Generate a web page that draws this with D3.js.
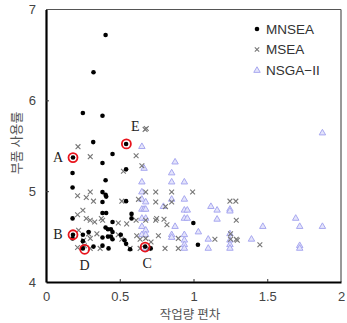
<!DOCTYPE html>
<html><head><meta charset="utf-8">
<script src="https://cdn.jsdelivr.net/npm/d3@7"></script>
<style>body{margin:0;background:#fff}svg{display:block}</style>
</head><body><svg id="c" width="347" height="323"></svg>
<script>
const xTicks = [0, 0.5, 1, 1.5, 2];
const yTicks = [4, 5, 6, 7];
const xTitle = "작업량 편차";
const yTitle = "부품 사용률";
const seriesNames = ["MNSEA", "MSEA", "NSGA-II"];
const legendLabels = ["MNSEA", "MSEA", "NSGA\u2212II"];

const mnsea = [[0.404,6.72],[0.322,6.31],[0.25,5.86],[0.383,5.83],[0.32,5.54],[0.543,5.52],[0.451,5.41],[0.183,5.37],[0.383,5.31],[0.543,5.24],[0.18,5.20],[0.404,5.12],[0.18,5.04],[0.383,4.99],[0.404,4.96],[0.408,4.94],[0.543,4.89],[0.383,4.88],[0.383,4.76],[0.408,4.76],[0.18,4.70],[0.58,4.75],[0.58,4.70],[0.451,4.66],[0.404,4.60],[0.42,4.58],[0.44,4.58],[0.451,4.55],[0.289,4.55],[0.999,4.65],[0.183,4.52],[0.25,4.52],[0.383,4.49],[0.507,4.52],[0.42,4.50],[0.44,4.50],[0.451,4.47],[0.25,4.45],[0.532,4.46],[0.543,4.42],[0.383,4.40],[0.322,4.39],[0.25,4.37],[0.424,4.37],[0.71,4.37],[1.03,4.41],[0.672,4.39],[0.18,4.48],[0.57,4.36]];
const msea = [[0.217,5.49],[0.30,5.38],[0.672,5.68],[0.68,5.69],[0.611,5.39],[0.65,5.28],[0.525,5.22],[0.214,4.95],[0.273,4.93],[0.30,4.99],[0.322,4.89],[0.514,4.89],[0.627,4.91],[0.676,4.99],[0.744,4.99],[0.744,4.88],[0.852,4.99],[0.852,4.88],[0.994,4.99],[1.247,4.89],[1.287,4.89],[0.214,4.74],[0.25,4.79],[0.273,4.70],[0.30,4.68],[0.33,4.66],[0.375,4.70],[0.384,4.68],[0.49,4.65],[0.547,4.64],[0.611,4.68],[0.676,4.68],[0.744,4.68],[0.75,4.70],[0.80,4.69],[0.82,4.63],[0.81,4.83],[1.29,4.68],[0.221,4.57],[0.255,4.46],[0.289,4.53],[0.30,4.48],[0.345,4.53],[0.49,4.52],[0.514,4.47],[0.615,4.51],[0.638,4.47],[0.676,4.48],[0.712,4.44],[0.762,4.51],[0.897,4.48],[1.145,4.47],[1.251,4.53],[1.251,4.47],[1.29,4.47],[1.297,4.46],[1.45,4.41],[0.214,4.38],[0.30,4.37],[0.367,4.37],[0.57,4.37],[0.638,4.37],[0.695,4.37],[0.807,4.37],[0.897,4.37],[0.26,4.40]];
const nsga = [[0.65,5.49],[0.665,5.25],[0.875,5.32],[0.852,5.20],[0.938,5.10],[0.65,5.10],[0.852,5.10],[0.65,4.99],[0.938,4.91],[0.852,4.91],[0.65,4.91],[0.676,4.88],[0.796,4.83],[0.938,4.79],[0.958,4.79],[0.65,4.80],[0.665,4.80],[0.676,4.80],[0.65,4.70],[0.676,4.70],[0.938,4.70],[0.958,4.70],[1.118,4.83],[1.16,4.79],[1.247,4.80],[1.247,4.78],[1.16,4.69],[1.693,4.70],[1.72,4.61],[1.874,4.61],[1.874,5.64],[1.47,4.61],[1.033,4.55],[1.10,4.47],[1.393,4.47],[1.247,4.53],[1.247,4.46],[1.247,4.41],[1.247,4.37],[0.938,4.52],[0.938,4.46],[0.938,4.41],[0.938,4.37],[0.852,4.52],[0.852,4.49],[0.875,4.61],[0.65,4.61],[0.65,4.52],[0.676,4.57],[0.676,4.52],[1.10,4.37],[1.72,4.40],[1.72,4.37],[0.676,4.37]];
const highlights = [["A",0.183,5.37],["B",0.183,4.52],["C",0.672,4.385],["D",0.262,4.36],["E",0.545,5.52]];
const labelPos = {A:[-15,0],B:[-15,0],C:[2,16],D:[0,16],E:[9,-17]};

const svg = d3.select("#c");
const m = {l:46, r:341, t:9.5, b:282};
const x = d3.scaleLinear().domain([0,2]).range([m.l, m.r]);
const y = d3.scaleLinear().domain([4,7]).range([m.b, m.t]);

svg.append("line").attr("x1",m.l).attr("x2",m.r).attr("y1",m.t).attr("y2",m.t).attr("stroke","#555").attr("stroke-width",1.2);
svg.append("line").attr("x1",m.r).attr("x2",m.r).attr("y1",m.t).attr("y2",m.b).attr("stroke","#555").attr("stroke-width",1.2);

const gx = svg.append("g").attr("transform",`translate(0,${m.b})`)
  .call(d3.axisBottom(x).tickValues(xTicks).tickFormat(d=>d).tickSizeInner(-3).tickSizeOuter(0).tickPadding(10));
const gy = svg.append("g").attr("transform",`translate(${m.l},0)`)
  .call(d3.axisLeft(y).tickValues(yTicks).tickFormat(d=>d).tickSizeInner(-3).tickSizeOuter(0).tickPadding(10));
[gx,gy].forEach(g=>{
  g.select(".domain").attr("stroke","#000").attr("stroke-width",2.2);
  g.selectAll(".tick line").attr("stroke","#333");
  g.selectAll(".tick text").attr("font-family","Liberation Sans, Arial, sans-serif").attr("font-size",13).attr("fill","#444");
});
gx.selectAll(".tick").filter(d=>d===0||d===2).select("line").remove();
gy.selectAll(".tick").filter(d=>d===4||d===7).select("line").remove();

svg.append("text").attr("x",190).attr("y",319).attr("text-anchor","middle")
  .attr("font-family","Noto Sans CJK KR").attr("font-size",12.5).attr("fill","#555").text(xTitle);
svg.append("text").attr("transform","translate(21,143) rotate(-90)").attr("text-anchor","middle")
  .attr("font-family","Noto Sans CJK KR").attr("font-size",13).attr("fill","#555").text(yTitle);

const plot = svg.append("g");
const triPath = d3.symbol().type(d3.symbolTriangle).size(18)();
plot.selectAll("path.tri").data(nsga).join("path").attr("class","tri")
  .attr("d",triPath).attr("transform",d=>`translate(${x(d[0])},${y(d[1])})`)
  .attr("fill","#e4e4fb").attr("stroke","#a8a8f0").attr("stroke-width",1);
const xs = 2.4;
plot.selectAll("path.cross").data(msea).join("path").attr("class","cross")
  .attr("d",d=>{const cx=x(d[0]),cy=y(d[1]);return `M${cx-xs},${cy-xs}L${cx+xs},${cy+xs}M${cx-xs},${cy+xs}L${cx+xs},${cy-xs}`;})
  .attr("stroke","#777").attr("stroke-width",1.1).attr("fill","none");
plot.selectAll("circle.dot").data(mnsea).join("circle").attr("class","dot")
  .attr("cx",d=>x(d[0])).attr("cy",d=>y(d[1])).attr("r",2.3).attr("fill","#000");

plot.selectAll("circle.hl").data(highlights).join("circle").attr("class","hl")
  .attr("cx",d=>x(d[1])).attr("cy",d=>y(d[2])).attr("r",4.5)
  .attr("fill","none").attr("stroke","#e8141c").attr("stroke-width",1.8);
plot.selectAll("text.hl").data(highlights).join("text").attr("class","hl")
  .attr("x",d=>x(d[1])+labelPos[d[0]][0]).attr("y",d=>y(d[2])+labelPos[d[0]][1])
  .attr("text-anchor","middle").attr("dominant-baseline","central")
  .attr("font-family","Liberation Serif, Times New Roman, serif").attr("font-size",14).attr("fill","#222").text(d=>d[0]);

const lg = svg.append("g");
const ly = [29, 49.5, 70.5];
lg.append("circle").attr("cx",257).attr("cy",ly[0]).attr("r",2.3).attr("fill","#000");
lg.append("path").attr("d",`M${257-2.2},${ly[1]-2.2}L${257+2.2},${ly[1]+2.2}M${257-2.2},${ly[1]+2.2}L${257+2.2},${ly[1]-2.2}`).attr("stroke","#777").attr("stroke-width",1.1);
lg.append("path").attr("d",triPath).attr("transform",`translate(257,${ly[2]})`).attr("fill","#e4e4fb").attr("stroke","#a8a8f0");
lg.selectAll("text").data(legendLabels).join("text").attr("x",266).attr("y",(d,i)=>ly[i]).attr("dominant-baseline","central")
  .attr("font-family","Liberation Sans, Arial, sans-serif").attr("font-size",13.5).attr("fill","#333").text(d=>d);
</script></body></html>
